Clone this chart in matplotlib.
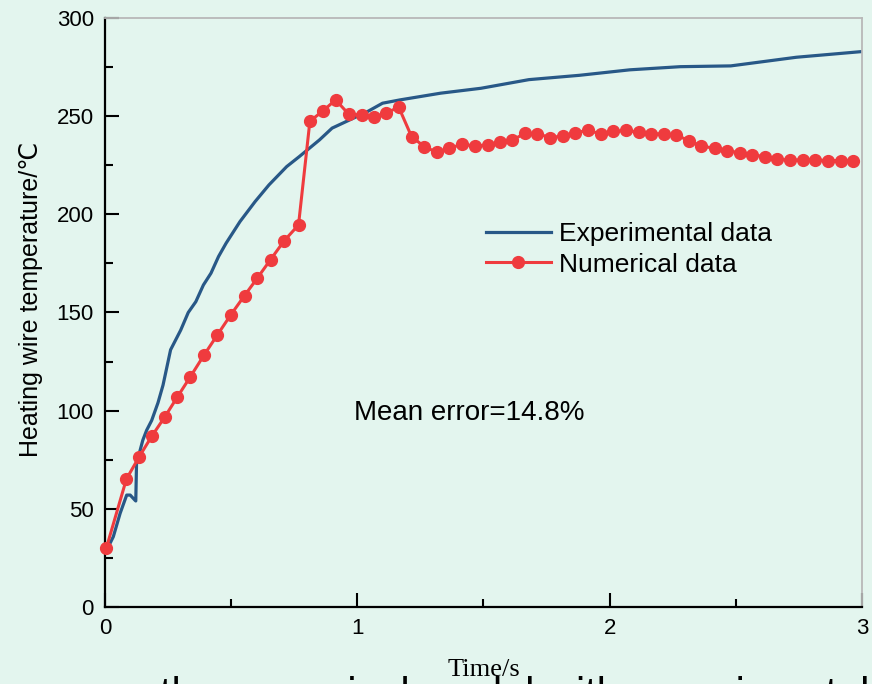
import numpy as np
import matplotlib.pyplot as plt
from matplotlib.ticker import MultipleLocator

# experimental curve (time in s, temperature in C)
exp_t = [0.01, 0.02, 0.033, 0.06, 0.086, 0.10, 0.118, 0.122, 0.125, 0.15, 0.165, 0.185, 0.21, 0.23,
         0.26, 0.30, 0.33, 0.36, 0.39, 0.42, 0.45, 0.48, 0.535, 0.595, 0.65, 0.72, 0.77, 0.85, 0.90,
         0.97, 1.04, 1.10, 1.17, 1.25, 1.33, 1.49, 1.68, 1.88, 2.08, 2.28, 2.48, 2.61, 2.74, 3.0]
exp_T = [31, 32.4, 35.8, 47.7, 57, 57, 54.5, 54, 73, 85, 90, 95, 104, 113,
         131, 141, 150, 155.5, 164, 170, 178.5, 185.3, 196.3, 206.5, 215, 224.3, 229.4, 237.9, 243.9,
         248.1, 252.3, 256.6, 258.3, 260, 261.7, 264.2, 268.6, 270.8, 273.6, 275.2, 275.6, 277.8, 280, 282.9]

# numerical results
num_t = [0.005, 0.085, 0.136, 0.186, 0.236, 0.286, 0.337, 0.392, 0.445, 0.498,
         0.553, 0.603, 0.656, 0.71, 0.767, 0.812, 0.865, 0.914, 0.966, 1.017,
         1.065, 1.113, 1.164, 1.215, 1.265, 1.315, 1.364, 1.415, 1.465, 1.516,
         1.566, 1.615, 1.666, 1.714, 1.765, 1.815, 1.864, 1.914, 1.964, 2.013,
         2.066, 2.115, 2.165, 2.215, 2.264, 2.314, 2.363, 2.416, 2.465, 2.515,
         2.565, 2.614, 2.664, 2.713, 2.766, 2.815, 2.865, 2.915, 2.964]
num_T = [29.9, 65.2, 76.6, 87.1, 96.6, 106.8, 117, 128.2, 138.5, 148.7,
         158.6, 167.4, 176.9, 186.5, 194.6, 247.4, 252.8, 258.3, 251, 250.6,
         249.5, 251.5, 254.6, 239.6, 234.5, 231.6, 233.6, 235.7, 234.8, 235.3,
         236.7, 237.9, 241.3, 241, 239.1, 239.9, 241.3, 243, 240.8, 242.2,
         242.7, 241.8, 241, 241, 240.4, 237.5, 234.8, 233.6, 232.4, 231.4,
         230.3, 229.4, 228, 227.7, 227.7, 227.7, 227.4, 227.4, 227.2]

xticks = [0, 1, 2, 3]
yticks = [0, 50, 100, 150, 200, 250, 300]

plt.rcParams['font.family'] = ['Liberation Sans', 'DejaVu Sans']

bg = '#e3f5ee'
fig = plt.figure(figsize=(8.72, 6.84), dpi=100, facecolor=bg)
ax = fig.add_axes([0.1204, 0.1126, 0.8681, 0.8611])
ax.set_facecolor('none')

ax.plot(exp_t, exp_T, color='#285887', lw=2.3, label='Experimental data')
ax.plot(num_t, num_T, color='#ef3b3e', lw=2.2, marker='o', ms=8.5,
        label='Numerical data', clip_on=False, zorder=3)

ax.set_xlim(0, 3)
ax.set_ylim(0, 300)
ax.set_xticks(xticks)
ax.set_yticks(yticks)
ax.xaxis.set_minor_locator(MultipleLocator(0.5))
ax.yaxis.set_minor_locator(MultipleLocator(25))
ax.tick_params(which='both', direction='in', width=1.5, labelsize=16, pad=8)
ax.tick_params(which='major', length=10)
ax.tick_params(which='minor', length=6)

for s in ['left', 'bottom']:
    ax.spines[s].set_linewidth(1.6)
    ax.spines[s].set_color('black')
for s in ['top', 'right']:
    ax.spines[s].set_linewidth(1.3)
    ax.spines[s].set_color('#b8b8b8')

ax.set_ylabel('Heating wire temperature/℃', fontsize=18)
ax.yaxis.set_label_coords(-0.082, 0.523)
ax.set_xlabel('Time/s', fontsize=19, family=['Liberation Serif', 'DejaVu Serif'])
ax.xaxis.set_label_coords(0.5, -0.088)

ax.text(1.445, 98.8, 'Mean error=14.8%', fontsize=20, ha='center', va='center')

ax.legend(loc='upper left', bbox_to_anchor=(486 / 872, 1 - 222 / 684), bbox_transform=fig.transFigure,
          frameon=False, fontsize=19, handlelength=2.45, handletextpad=0.3,
          labelspacing=0.25, borderpad=0, borderaxespad=0)

# caption of the source page, cut off at the bottom edge
fig.text(160 / 872, 1 - 676 / 684, 'the numerical model with experimental', fontsize=30, va='top')

plt.savefig('out.png', dpi=100, facecolor=bg)
